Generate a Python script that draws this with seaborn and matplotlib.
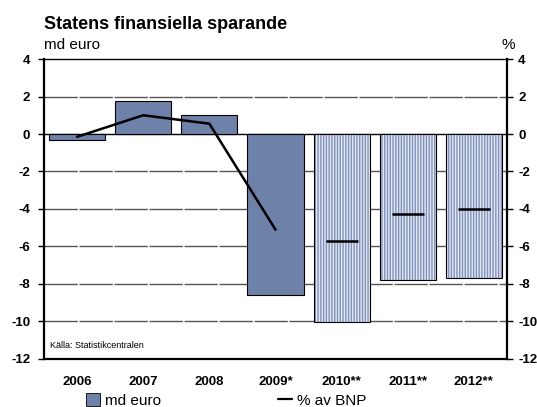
import numpy as np
import pandas as pd
import matplotlib
matplotlib.use("Agg")
import matplotlib.pyplot as plt
from matplotlib.patches import Rectangle, Patch
from matplotlib.lines import Line2D
import seaborn as sns

years = ["2006", "2007", "2008", "2009*", "2010**", "2011**", "2012**"]
md_euro = [-0.3, 1.75, 1.0, -8.6, -10.05, -7.8, -7.7]
pct_bnp = [-0.15, 1.0, 0.55, -5.1]
pct_forecast = [-5.7, -4.25, -4.0]
forecast = [False, False, False, False, True, True, True]
yticks = [4, 2, 0, -2, -4, -6, -8, -10, -12]

BAR_COLOR = "#6d81a9"
HATCH_FACE = "#e2e7f2"
HATCH_COLOR = "#8293bb"

sns.set_style("white")
plt.rcParams["font.family"] = ["Liberation Sans", "DejaVu Sans"]
plt.rcParams["text.color"] = "black"
plt.rcParams["xtick.color"] = "black"
plt.rcParams["ytick.color"] = "black"
plt.rcParams["hatch.linewidth"] = 1.0

df = pd.DataFrame({"year": years, "value": md_euro})

fig = plt.figure(figsize=(5.37, 4.07), dpi=100)
ax = fig.add_axes([0.082, 0.118, 0.862, 0.737])

sns.barplot(data=df, x="year", y="value", color=BAR_COLOR, saturation=1,
            width=0.85, edgecolor="black", linewidth=0.8, ax=ax, zorder=3)

# prognos-staplar: ljus botten med lodräta linjer
for patch, is_fc in zip(ax.patches, forecast):
    if not is_fc:
        continue
    patch.set_facecolor(HATCH_FACE)
    patch.set_hatch("||||||")
    patch.set_edgecolor(HATCH_COLOR)
    patch.set_linewidth(0)
    ax.add_patch(Rectangle(patch.get_xy(), patch.get_width(), patch.get_height(),
                           fill=False, edgecolor="black", linewidth=0.8, zorder=4))

# % av BNP
sns.lineplot(x=np.arange(len(pct_bnp)), y=pct_bnp, color="black", linewidth=1.8,
             ax=ax, zorder=5)
ax.plot(np.arange(len(pct_bnp), len(years)), pct_forecast, linestyle="none",
        marker="_", markersize=23, markeredgewidth=1.8, color="black", zorder=5)

ax.set_ylim(-12, 4)
ax.set_xlim(-0.5, len(years) - 0.5)
ax.set_yticks(yticks)
ax.set_yticklabels([str(t) for t in yticks], fontweight="bold", fontsize=9.5)
ax.set_xticks(range(len(years)))
ax.set_xticklabels(years, fontweight="bold", fontsize=9.5)
ax.set_xlabel("")
ax.set_ylabel("")
ax.tick_params(axis="x", length=0, pad=12)
ax.tick_params(axis="y", direction="out", length=4, width=1, pad=6)

for t in yticks:
    if t in (4, -12):
        continue
    if t == 0:
        ax.axhline(0, color="black", linewidth=1, zorder=2)
    else:
        ax.axhline(t, color="#555555", linewidth=1.0, linestyle=(0, (24, 1.2)), zorder=1)

for side in ["left", "right"]:
    ax.spines[side].set_linewidth(1.6)
ax.spines["bottom"].set_linewidth(1.6)
ax.spines["top"].set_linewidth(1.0)
for s in ax.spines.values():
    s.set_color("black")

ax2 = ax.twinx()
ax2.set_ylim(-12, 4)
ax2.set_yticks(yticks)
ax2.set_yticklabels([str(t) for t in yticks], fontweight="bold", fontsize=9.5)
ax2.tick_params(axis="y", direction="out", length=4, width=1, pad=4)
for s in ax2.spines.values():
    s.set_visible(False)

fig.text(0.082, 0.94, "Statens finansiella sparande", fontsize=13, fontweight="bold",
         va="center")
fig.text(0.082, 0.890, "md euro", fontsize=11, va="center")
fig.text(0.933, 0.890, "%", fontsize=11, ha="left", va="center")
ax.text(0.012, 0.035, "Källa: Statistikcentralen", transform=ax.transAxes, fontsize=6.5)

handles = [Patch(facecolor=BAR_COLOR, edgecolor="black", linewidth=0.6),
           Line2D([0], [0], color="black", linewidth=1.6)]
fig.legend(handles, ["md euro", "% av BNP"], loc="lower left",
           bbox_to_anchor=(0.135, -0.036), ncol=2, frameon=False, fontsize=11,
           handlelength=0.9, handleheight=0.9, handletextpad=0.3, columnspacing=7.7)

fig.savefig("out.png", dpi=100)
